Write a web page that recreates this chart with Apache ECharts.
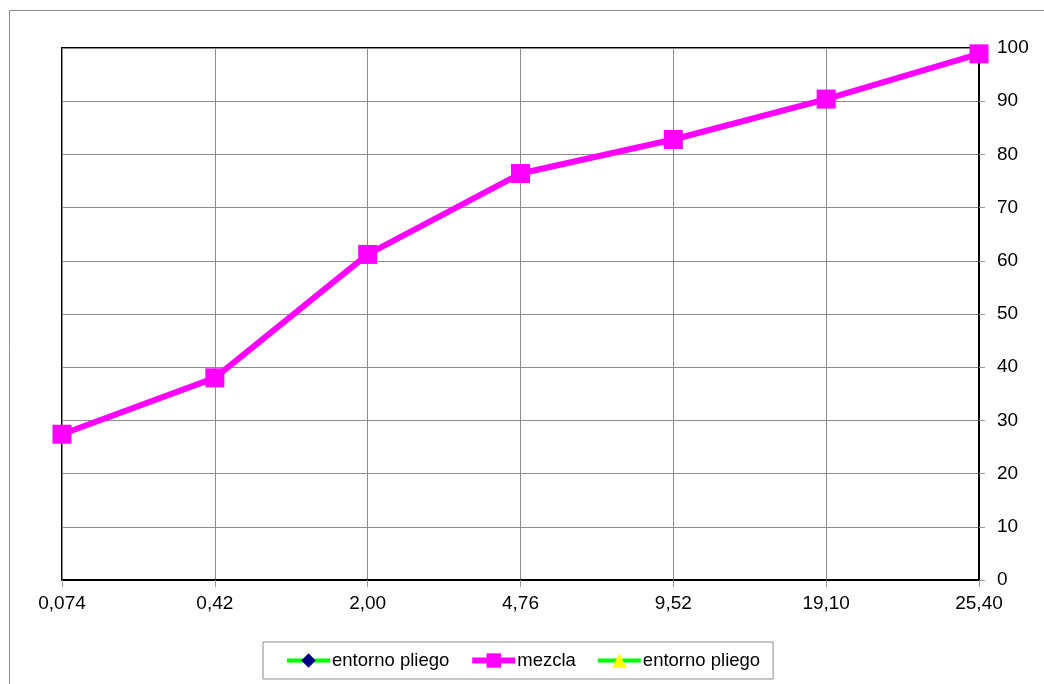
<!DOCTYPE html>
<html>
<head>
<meta charset="utf-8">
<script src="https://cdn.jsdelivr.net/npm/echarts@6/dist/echarts.min.js"></script>
<style>
  html, body { margin: 0; padding: 0; background: #fff; }
  #chart { width: 1044px; height: 684px; }
</style>
</head>
<body>
<div id="chart"></div>
<script>
// Sieve sizes (mm) and cumulative percentage passing
const sieves = ['0,074', '0,42', '2,00', '4,76', '9,52', '19,10', '25,40'];
const mezcla = [27.4, 38.0, 61.2, 76.4, 82.8, 90.4, 98.9];
// Envelope series (no points plotted)
const entornoInferior = [];
const entornoSuperior = [];
const yTicks = { min: 0, max: 100, interval: 10 };

const font = 'Liberation Sans, Arial, sans-serif';
const chart = echarts.init(document.getElementById('chart'), null, { renderer: 'canvas' });

chart.setOption({
  backgroundColor: '#ffffff',
  animation: false,
  graphic: [{
    type: 'rect',
    shape: { x: 9.5, y: 10.5, width: 1100, height: 700 },
    style: { fill: 'none', stroke: '#8c8c8c', lineWidth: 1 },
    silent: true, z: -1
  }],
  grid: {
    left: 62, right: 65, top: 48, bottom: 104,
    show: true, borderColor: '#000', borderWidth: 2, backgroundColor: 'transparent'
  },
  legend: {
    bottom: 5, left: 263,
    orient: 'horizontal',
    borderColor: '#8c8c8c', borderWidth: 1,
    padding: [9, 13, 9, 22],
    itemWidth: 43, itemHeight: 18, itemGap: 20,
    textStyle: { fontFamily: font, fontSize: 18.5, color: '#000', padding: [0, 0, 0, -3] },
    formatter: name => name.trim(),
    data: [
      { name: 'entorno pliego', lineStyle: { width: 4 } },
      { name: 'mezcla', lineStyle: { width: 6 } },
      { name: 'entorno pliego ', lineStyle: { width: 4 } }
    ]
  },
  xAxis: {
    type: 'category',
    data: sieves,
    boundaryGap: false,
    axisLine: { show: true, lineStyle: { color: '#000', width: 2 } },
    axisTick: { show: true, length: 7, lineStyle: { color: '#999' } },
    axisLabel: { fontFamily: font, fontSize: 19, color: '#000', margin: 14 },
    splitLine: { show: true, lineStyle: { color: '#8c8c8c', width: 1 } }
  },
  yAxis: {
    type: 'value',
    position: 'right',
    min: yTicks.min, max: yTicks.max, interval: yTicks.interval,
    axisLine: { show: true, lineStyle: { color: '#000', width: 2 } },
    axisTick: { show: true, length: 6, lineStyle: { color: '#999' } },
    axisLabel: { fontFamily: font, fontSize: 19, color: '#000', margin: 18 },
    splitLine: { show: true, lineStyle: { color: '#8c8c8c', width: 1 } }
  },
  series: [
    {
      name: 'entorno pliego', type: 'line', data: entornoInferior,
      symbol: 'diamond', symbolSize: 12,
      lineStyle: { color: '#00ff00', width: 4 },
      itemStyle: { color: '#000080' }
    },
    {
      name: 'mezcla', type: 'line', data: mezcla,
      symbol: 'rect', symbolSize: 19,
      lineStyle: { color: '#ff00ff', width: 6 },
      itemStyle: { color: '#ff00ff' }
    },
    {
      name: 'entorno pliego ', type: 'line', data: entornoSuperior,
      symbol: 'triangle', symbolSize: 13,
      lineStyle: { color: '#00ff00', width: 4 },
      itemStyle: { color: '#ffff00' }
    }
  ]
});
</script>
</body>
</html>
